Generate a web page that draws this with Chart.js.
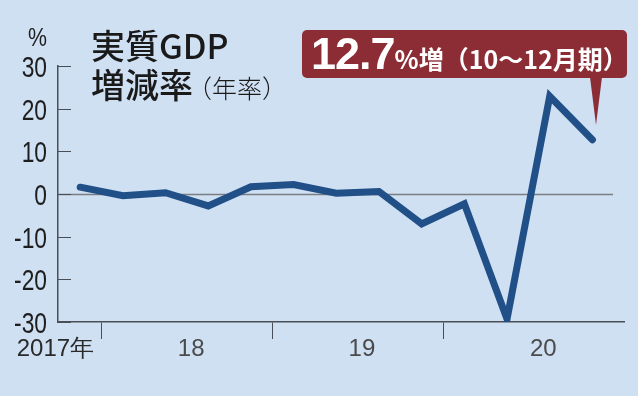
<!DOCTYPE html>
<html>
<head>
<meta charset="utf-8">
<script src="https://cdn.jsdelivr.net/npm/chart.js@4"></script>
<style>
  html, body { margin: 0; padding: 0; }
  body { width: 638px; height: 396px; background: #cfe0f3; position: relative; overflow: hidden; }
  #wrap { position: absolute; left: 0; top: 0; width: 638px; height: 396px; }
  .title { position: absolute; left: 91px; top: 25px; font-family: "Noto Sans CJK JP"; font-weight: 500; font-size: 34px; line-height: 39px; color: #1a1a1a; }
  .title small { font-size: 25px; font-weight: 300; margin-left: -6px; }
  .callout { position: absolute; left: 302px; top: 30px; width: 325px; height: 48px; background: #8c2d36; border-radius: 5px; color: #fff; }
  .callout .txt { position: absolute; left: 9px; top: 0; white-space: nowrap; }
  .callout .big { font-family: "Liberation Sans"; font-weight: bold; font-size: 45px; letter-spacing: -1px; line-height: 48px; }
  .callout .rest { font-family: "Noto Sans CJK JP"; font-weight: 700; font-size: 25px; }
  .tail { position: absolute; left: 590px; top: 77px; width: 0; height: 0; border-left: 6px solid transparent; border-right: 6px solid transparent; border-top: 48px solid #8c2d36; }
</style>
</head>
<body>
<div id="wrap"><canvas id="gdp" width="638" height="396"></canvas></div>
<div class="title">実質GDP<br>増減率<small>（年率）</small></div>
<div class="callout"><span class="txt"><span class="big">12.7</span><span class="rest">%増（10〜12月期）</span></span></div>
<div class="tail"></div>
<script>
// 2017年10-12月期 〜 2020年10-12月期
const quarters = ["17Q4", "18Q1", "18Q2", "18Q3", "18Q4", "19Q1", "19Q2", "19Q3", "19Q4", "20Q1", "20Q2", "20Q3", "20Q4"];
const growth = [1.6, -0.4, 0.3, -2.8, 1.7, 2.2, 0.2, 0.6, -7.0, -2.3, -29.3, 22.9, 12.7];
const yearLabels = ["2017年", "18", "19", "20"];
const yearLabelPos = [-0.58, 2.6, 6.6, 10.85]; // 四半期インデックス上の位置
const yearBreaks = [0.5, 4.5, 8.5];
const yTicks = [-30, -20, -10, 0, 10, 20, 30];

const axisColor = "#4a4f57";

// 縦長の数字（細めのフォントを横方向に縮めて描く）
function narrowText(ctx, text, x, y, size, sx) {
  ctx.save();
  ctx.translate(x, y);
  ctx.scale(sx, 1);
  ctx.font = size + "px 'Liberation Sans', Arial";
  ctx.textAlign = "right";
  ctx.textBaseline = "alphabetic";
  ctx.fillText(text, 0, 0);
  ctx.restore();
}

// 軸の内側の目盛り・ゼロ線・ラベル
const extras = {
  id: "extras",
  afterDraw(chart) {
    const { ctx, scales: { x, y } } = chart;
    ctx.save();
    ctx.strokeStyle = axisColor;
    ctx.lineWidth = 1;
    ctx.fillStyle = "#1e1e1e";
    yTicks.forEach((v) => {
      const py = Math.round(y.getPixelForValue(v)) + 0.5;
      ctx.beginPath();
      ctx.moveTo(x.left, py);
      ctx.lineTo(x.left + 13, py);
      ctx.stroke();
      narrowText(ctx, String(v), 47, py + 10.5, 30, 0.76);
    });
    narrowText(ctx, "%", 47, 46, 26, 0.82);
    ctx.font = "24px 'Liberation Sans', Arial";
    ctx.textAlign = "center";
    ctx.textBaseline = "alphabetic";
    yearLabels.forEach((t, i) => {
      ctx.fillStyle = i === 0 ? "#2a2a2a" : "#4a4a4a";
      ctx.fillText(t, x.getPixelForValue(yearLabelPos[i]), 356);
    });
    ctx.restore();
  },
  beforeDatasetsDraw(chart) {
    const { ctx, scales: { x, y } } = chart;
    const py = Math.round(y.getPixelForValue(0)) + 0.5;
    ctx.save();
    ctx.strokeStyle = "#7a7d82";
    ctx.lineWidth = 1.5;
    ctx.beginPath();
    ctx.moveTo(x.left, py);
    ctx.lineTo(x.right - 11, py);
    ctx.stroke();
    ctx.restore();
  },
};

new Chart(document.getElementById("gdp"), {
  type: "line",
  data: {
    datasets: [
      {
        label: "実質GDP増減率",
        data: growth.map((v, i) => ({ x: i, y: v })),
        borderColor: "#214f87",
        borderWidth: 7,
        borderCapStyle: "round",
        borderJoinStyle: "miter",
        pointRadius: 0,
        tension: 0,
        clip: { left: 10, right: 10, top: 10, bottom: 0 },
      },
    ],
  },
  options: {
    responsive: false,
    animation: false,
    layout: { padding: { top: 66, right: 14, left: 0, bottom: 0 } },
    plugins: { legend: { display: false }, tooltip: { enabled: false } },
    scales: {
      x: {
        type: "linear",
        min: -0.52,
        max: 12.74,
        afterBuildTicks: (s) => { s.ticks = yearBreaks.map((v) => ({ value: v })); },
        afterFit: (s) => { s.height = 74; },
        grid: { drawOnChartArea: false, drawTicks: true, tickLength: 17, color: axisColor, lineWidth: 1 },
        border: { display: true, color: axisColor, width: 1.5 },
        ticks: { display: false },
      },
      y: {
        min: -30,
        max: 30,
        afterBuildTicks: (s) => { s.ticks = yTicks.map((v) => ({ value: v })); },
        afterFit: (s) => { s.width = 58; },
        grid: { display: false, drawTicks: false },
        border: { display: true, color: axisColor, width: 1.5 },
        ticks: { display: false },
      },
    },
  },
  plugins: [extras],
});
</script>
</body>
</html>
